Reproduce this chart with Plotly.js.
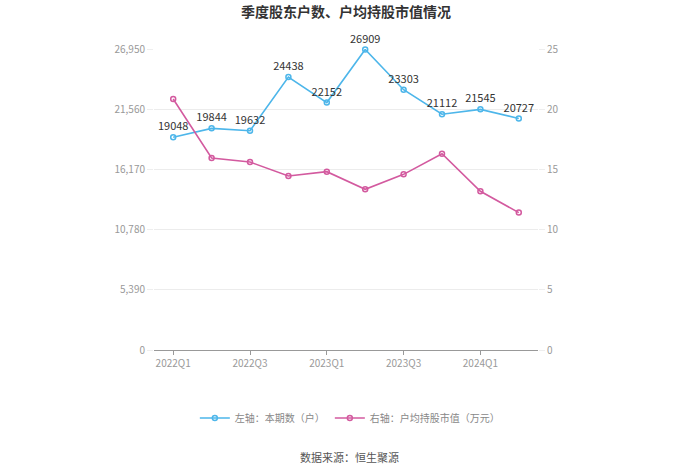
<!DOCTYPE html>
<html>
<head>
<meta charset="utf-8">
<script src="https://cdn.plot.ly/plotly-3.0.1.min.js"></script>
<style>html,body{margin:0;padding:0;background:#fff;}#chart{width:700px;height:474px;}</style>
</head>
<body>
<div id="chart"></div>
<script>
const quarters = ["2022Q1","2022Q2","2022Q3","2022Q4","2023Q1","2023Q2","2023Q3","2023Q4","2024Q1","2024Q2"];
const holders = [19048,19844,19632,24438,22152,26909,23303,21112,21545,20727];
const avgValue = [20.85,15.95,15.61,14.45,14.81,13.35,14.59,16.30,13.18,11.41];
const tickLabels = ["2022Q1","2022Q3","2023Q1","2023Q3","2024Q1"];
const leftTicks = [0,5390,10780,16170,21560,26950];
const rightTicks = [0,5,10,15,20,25];

const font = "'Noto Sans CJK SC', 'Noto Sans', sans-serif";
const blue = "#4db6ea";
const pink = "#d35a9f";

const traces = [
  {
    x: quarters, y: holders, type: "scatter", mode: "lines+markers+text",
    name: "左轴：本期数（户）",
    text: holders.map(String), textposition: "top center",
    textfont: {family: font, size: 11, color: "#333"},
    line: {color: blue, width: 1.6},
    marker: {symbol: "circle-open", size: 5, color: blue, line: {width: 1.5, color: blue}},
    cliponaxis: false, yaxis: "y"
  },
  {
    x: quarters, y: avgValue, type: "scatter", mode: "lines+markers",
    name: "右轴：户均持股市值（万元）",
    line: {color: pink, width: 1.6},
    marker: {symbol: "circle-open", size: 5, color: pink, line: {width: 1.5, color: pink}},
    cliponaxis: false, yaxis: "y2"
  }
];

const layout = {
  width: 700, height: 474,
  margin: {l: 154, r: 162, t: 49, b: 124},
  paper_bgcolor: "#fff", plot_bgcolor: "#fff",
  font: {family: font, color: "#999", size: 10},
  title: {text: "季度股东户数、户均持股市值情况", x: 0.5, xref: "paper", y: 0.975, yanchor: "middle",
          font: {family: font, size: 14, color: "#333", weight: "bold"}},
  showlegend: true,
  legend: {orientation: "h", x: 0.51, xanchor: "center", y: -0.226, yanchor: "middle",
           font: {family: font, size: 10, color: "#888"}, itemwidth: 30},
  xaxis: {
    type: "category", tickmode: "array", tickvals: tickLabels, ticktext: tickLabels,
    showline: true, linecolor: "#999", linewidth: 1,
    ticks: "outside", ticklen: 4, tickcolor: "#999",
    showgrid: false, zeroline: false,
    tickfont: {family: font, size: 10, color: "#999"},
    range: [-0.5, 9.5]
  },
  yaxis: {
    range: [0, 26950], tickmode: "array", tickvals: leftTicks,
    tickformat: ",d", showline: false, ticks: "outside", ticklen: 6, tickcolor: "#eee",
    showgrid: true, gridcolor: "#ececec", zeroline: false,
    tickfont: {family: font, size: 10, color: "#999"}
  },
  yaxis2: {
    range: [0, 25], tickmode: "array", tickvals: rightTicks, overlaying: "y", side: "right",
    showline: false, ticks: "outside", ticklen: 6, tickcolor: "#eee",
    showgrid: false, zeroline: false,
    tickfont: {family: font, size: 10, color: "#999"}
  },
  annotations: [{
    text: "数据来源：恒生聚源", xref: "paper", yref: "paper", x: 0.51, y: -0.355,
    xanchor: "center", yanchor: "middle", showarrow: false,
    font: {family: font, size: 11, color: "#555"}
  }]
};

Plotly.newPlot("chart", traces, layout, {displayModeBar: false, staticPlot: true});
</script>
</body>
</html>
